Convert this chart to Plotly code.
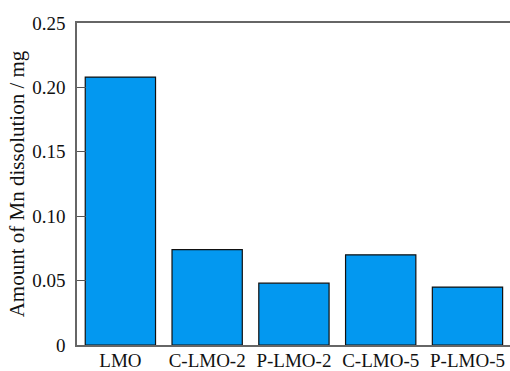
import plotly.graph_objects as go

# Mn dissolution per sample (mg)
samples = ["LMO", "C-LMO-2", "P-LMO-2", "C-LMO-5", "P-LMO-5"]
mn_dissolved = [0.208, 0.074, 0.048, 0.070, 0.045]

y_ticks = [0, 0.05, 0.10, 0.15, 0.20, 0.25]
y_tick_text = ["0", "0.05", "0.10", "0.15", "0.20", "0.25"]

font_family = "Liberation Serif"

fig = go.Figure(
    go.Bar(
        x=samples,
        y=mn_dissolved,
        marker=dict(color="#0398F0", line=dict(color="#111111", width=1.2)),
    )
)

fig.update_layout(
    width=510,
    height=371,
    margin=dict(l=77, r=0, t=23, b=26),
    paper_bgcolor="white",
    plot_bgcolor="white",
    bargap=0.19,
    showlegend=False,
    font=dict(family=font_family, size=19, color="#111111"),
)

fig.update_xaxes(
    range=[-0.5, 4.49],
    showline=True,
    linecolor="#666666",
    linewidth=1.5,
    mirror=True,
    ticks="",
    showgrid=False,
    automargin=False,
    ticklabelstandoff=-3,
    tickfont=dict(family=font_family, size=19),
)

fig.update_yaxes(
    range=[0, 0.25],
    tickvals=y_ticks,
    ticktext=y_tick_text,
    ticks="inside",
    ticklen=9,
    tickcolor="#555555",
    tickwidth=1.2,
    showline=True,
    linecolor="#666666",
    linewidth=1.5,
    showgrid=False,
    zeroline=False,
    automargin=False,
    ticklabelstandoff=6,
    tickfont=dict(family=font_family, size=19),
    title=dict(text="Amount of Mn dissolution / mg",
               font=dict(family=font_family, size=21), standoff=2),
)

fig.write_html("out.html")
